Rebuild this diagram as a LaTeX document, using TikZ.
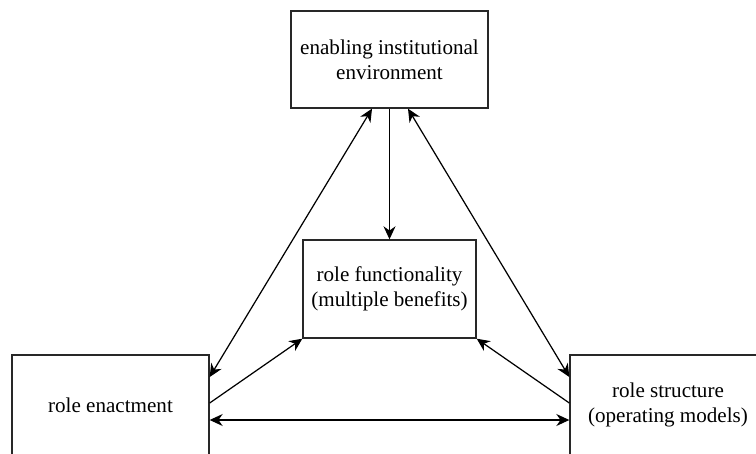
\documentclass[tikz,border=0pt]{standalone}
\usepackage{fontspec}
\setmainfont{Liberation Serif}
\usetikzlibrary{positioning,arrows.meta,calc}
\definecolor{EdgeGrey}{RGB}{40,40,40}

\begin{document}
\begin{tikzpicture}[x=0.02cm,y=-0.02cm,
    every node/.style={font=\fontsize{12}{14}\selectfont, align=center},
    rolebox/.style={draw=EdgeGrey, line width=0.8pt, fill=white, inner sep=0pt},
    link/.style={line width=0.7pt, -{Stealth[length=2.6mm,width=2.4mm]}},
    twolink/.style={line width=0.7pt, {Stealth[length=2.6mm,width=2.4mm]}-{Stealth[length=2.6mm,width=2.4mm]}}]
  \useasboundingbox (0,0) rectangle (756,453);
  \node[rolebox, minimum width=3.94cm, minimum height=1.94cm] (env) at (389.5,59.5)
        {enabling institutional\\environment};
  \node[rolebox, minimum width=3.46cm, minimum height=1.96cm] (func) at (389.5,289)
        {role functionality\\(multiple benefits)};
  \node[rolebox, minimum width=3.94cm, minimum height=2.0cm] (enact) at (110.5,405)
        {role enactment};
  \node[rolebox, minimum width=3.92cm, minimum height=2.0cm] (struct) at (668,405)
        {role structure\\(operating models)};
  \draw[link] (env) -- (func);
  \draw[twolink] ([xshift=-0.35cm]env.south) -- ([yshift=0.56cm]enact.east);
  \draw[twolink] ([xshift=0.37cm]env.south) -- ([yshift=0.56cm]struct.west);
  \draw[link] ([yshift=0.04cm]enact.east) -- (func.south west);
  \draw[link] ([yshift=0.04cm]struct.west) -- (func.south east);
  \draw[twolink] ([yshift=-0.3cm]enact.east) -- ([yshift=-0.3cm]struct.west);
\end{tikzpicture}
\end{document}
